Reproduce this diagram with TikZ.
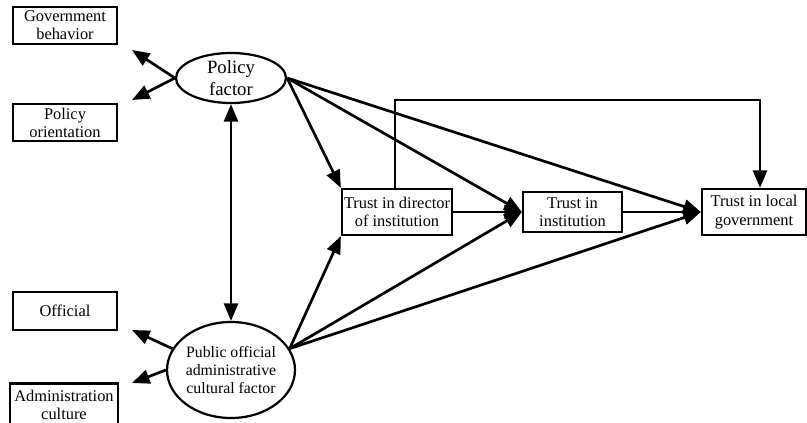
\documentclass[tikz,border=0pt]{standalone}
\usepackage{fontspec}
\setmainfont{Liberation Serif}
\usetikzlibrary{arrows.meta,shapes.geometric}

\begin{document}
\begin{tikzpicture}[x=0.03cm, y=-0.03cm,
  box/.style={draw=black, line width=1.9pt, rectangle, align=center, inner sep=0pt,
    font=\fontsize{14}{15.5}\selectfont},
  factor/.style={draw=black, line width=1.9pt, ellipse, align=center, inner sep=0pt},
  link/.style={line width=2.3pt, -{Triangle[length=15pt,width=12pt]}},
  both/.style={line width=2.3pt, {Triangle[length=15pt,width=12pt]}-{Triangle[length=15pt,width=12pt]}}]

  \useasboundingbox (0,0) rectangle (807,423);

  % latent factors
  \node[factor, minimum width=3.3cm, minimum height=1.5cm,
    font=\fontsize{16}{18.5}\selectfont] (policy) at (231,78) {Policy\\factor};
  \node[factor, minimum width=3.57cm, minimum height=2.88cm,
    font=\fontsize{13.5}{15.3}\selectfont] (public) at (231,370)
    {Public official\\administrative\\cultural factor};

  % indicators
  \node[box, minimum width=3.12cm, minimum height=1.11cm] (gov) at (65,25.5) {Government\\behavior};
  \node[box, minimum width=3.12cm, minimum height=1.11cm] (orient) at (65,122.5) {Policy\\orientation};
  \node[box, minimum width=3.12cm, minimum height=1.14cm] (official) at (65,311) {Official};
  \node[box, minimum width=3.24cm, minimum height=1.29cm] (admin) at (64,405) {Administration\\culture};

  % trust chain
  \node[box, minimum width=3.3cm, minimum height=1.38cm] (director) at (397,212) {Trust in director\\of institution};
  \node[box, minimum width=2.97cm, minimum height=1.2cm] (institution) at (572.5,212) {Trust in\\institution};
  \node[box, minimum width=3.12cm, minimum height=1.38cm] (local) at (754,212) {Trust in local\\government};

  % free ends of the indicator arrows
  \coordinate (govtip) at (132,50);
  \coordinate (orienttip) at (132,100);
  \coordinate (officialtip) at (132,330);
  \coordinate (admintip) at (132,383);
  \coordinate (bar) at (0,100);

  % factor -> indicators
  \draw[link] (policy.west) -- (govtip);
  \draw[link] (policy.west) -- (orienttip);
  \draw[link] (public.160) -- (officialtip);
  \draw[link] (public.west) -- (admintip);

  % correlation between factors
  \draw[both] (policy.south) -- (public.north);

  % paths from policy factor
  \draw[link] (policy.east) -- (director.north west);
  \draw[link] (policy.east) -- (institution.west);
  \draw[link] (policy.east) -- (local.west);

  % paths from public official factor
  \draw[link] (public.20) -- (director.south west);
  \draw[link] (public.20) -- (institution.west);
  \draw[link] (public.20) -- (local.west);

  % chain of trust
  \draw[link] (director.east) -- (institution.west);
  \draw[link] (institution.east) -- (local.west);
  \draw[link] ([xshift=-0.06cm]director.north) |- (bar -| local.north) -- ([xshift=0.18cm]local.north |- bar)
    -- ([xshift=0.18cm]local.north);
\end{tikzpicture}
\end{document}
